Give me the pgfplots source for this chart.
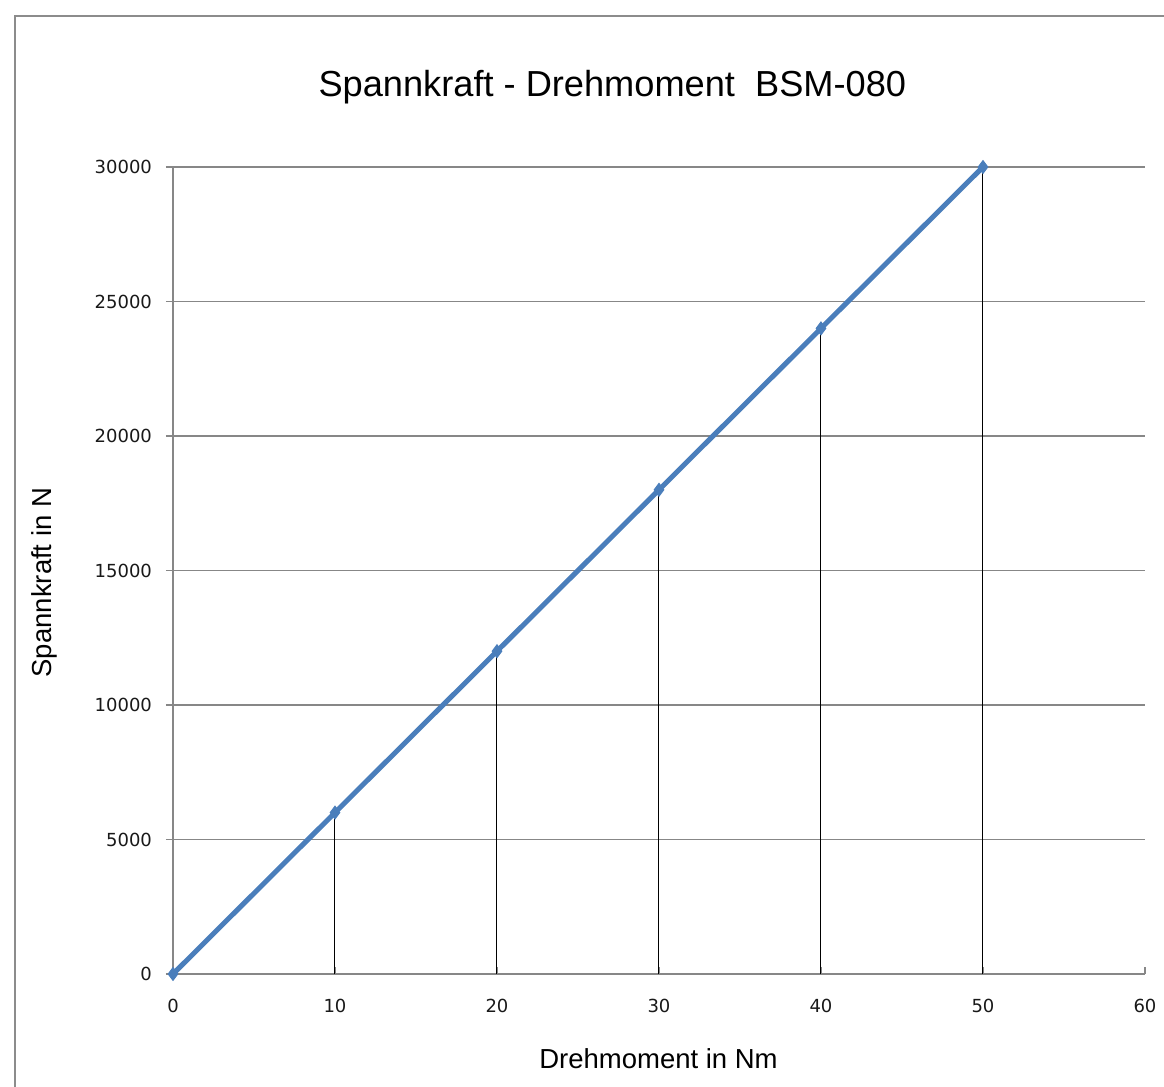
\documentclass[border=0pt]{standalone}
\usepackage{fontspec}
\setmainfont{Liberation Sans}
\newfontfamily\tickfont{DejaVu Sans}
\usepackage{pgfplots}
\pgfplotsset{compat=1.18}
\definecolor{serblue}{HTML}{4A7EBB}
\definecolor{gridgray}{HTML}{878787}
\definecolor{framegray}{HTML}{8C8C8C}

\pgfplotstableread{
x y
0 0
10 6000
20 12000
30 18000
40 24000
50 30000
}\spann

\begin{document}
\begin{tikzpicture}
\path[use as bounding box] (-86.5pt,-56.5pt) rectangle (495.5pt,487pt);
\draw[framegray, line width=0.75pt] (-79pt,-70pt) rectangle (510pt,479pt);
\begin{axis}[
  scale only axis,
  width=486pt, height=403.5pt,
  xmin=0, xmax=60, ymin=0, ymax=30000,
  xtick={0,10,...,60},
  ytick={0,5000,...,30000},
  scaled y ticks=false,
  axis lines*=left,
  axis line style={gridgray, line width=0.6pt},
  ymajorgrids,
  major grid style={gridgray, line width=0.6pt},
  tick align=inside,
  major tick length=3.5pt,
  tick style={gridgray, line width=0.6pt},
  y tick style={xshift=-3.5pt},
  /pgf/number format/assume math mode=true,
  /pgf/number format/1000 sep={},
  ticklabel style={font=\tickfont\fontsize{9}{10}\selectfont, text=black!90},
  yticklabel style={xshift=-7pt},
  xticklabel style={yshift=-9pt},
  title={Spannkraft - Drehmoment\ \ BSM-080},
  title style={at={(axis description cs:0.452,1.0719)}, anchor=base,
    font=\fontsize{18.1}{21}\selectfont},
  xlabel={Drehmoment in Nm},
  xlabel style={at={(axis description cs:0.4995,-0.1165)}, anchor=base,
    font=\fontsize{13.75}{16}\selectfont},
  ylabel={Spannkraft in N},
  ylabel style={at={(axis description cs:-0.1245,0.485)}, anchor=base, rotate=0,
    font=\fontsize{13.75}{16}\selectfont},
  clip=false,
]
\addplot[ycomb, black, line width=0.5pt, no marks] table[x=x,y=y] {\spann};
\addplot[serblue, line width=2.5pt, mark=diamond*, mark size=3.2pt,
  mark options={fill=serblue, draw=serblue, line width=0.5pt}] table[x=x,y=y] {\spann};
\end{axis}
\end{tikzpicture}
\end{document}
